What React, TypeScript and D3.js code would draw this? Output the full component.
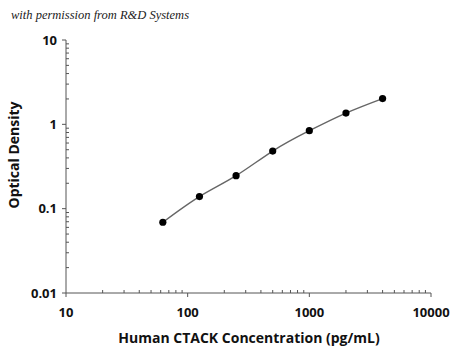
import { useEffect, useRef } from "react";
import * as d3 from "d3";

const concentrations = [62.5, 125, 250, 500, 1000, 2000, 4000];
const opticalDensity = [0.069, 0.139, 0.246, 0.482, 0.84, 1.36, 2.02];
const xTickValues = [10, 100, 1000, 10000];
const yTickValues = [0.01, 0.1, 1, 10];

const WIDTH = 450;
const HEIGHT = 350;
const PLOT = { left: 66, right: 431, top: 40, bottom: 293 };

export default function App() {
  const svgRef = useRef<SVGSVGElement>(null);

  useEffect(() => {
    if (!svgRef.current) return;
    const svg = d3.select(svgRef.current);
    svg.selectAll("*").remove();

    const x = d3.scaleLog().domain([10, 10000]).range([PLOT.left, PLOT.right]);
    const y = d3.scaleLog().domain([0.01, 10]).range([PLOT.bottom, PLOT.top]);

    const minorX = x.ticks().filter((t) => !xTickValues.includes(t));
    const minorY = y.ticks().filter((t) => !yTickValues.includes(t));

    const axisColor = "#555";

    // Axis lines
    svg.append("line")
      .attr("x1", PLOT.left).attr("x2", PLOT.right)
      .attr("y1", PLOT.bottom).attr("y2", PLOT.bottom)
      .attr("stroke", axisColor).attr("stroke-width", 1);
    svg.append("line")
      .attr("x1", PLOT.left).attr("x2", PLOT.left)
      .attr("y1", PLOT.top).attr("y2", PLOT.bottom)
      .attr("stroke", axisColor).attr("stroke-width", 1);

    // Major ticks (outside) and minor ticks (inside)
    svg.append("g").selectAll("line").data(xTickValues).join("line")
      .attr("x1", (d) => x(d)).attr("x2", (d) => x(d))
      .attr("y1", PLOT.bottom).attr("y2", PLOT.bottom + 4)
      .attr("stroke", axisColor);
    svg.append("g").selectAll("line").data(minorX).join("line")
      .attr("x1", (d) => x(d)).attr("x2", (d) => x(d))
      .attr("y1", PLOT.bottom).attr("y2", PLOT.bottom - 3)
      .attr("stroke", axisColor);
    svg.append("g").selectAll("line").data(yTickValues).join("line")
      .attr("y1", (d) => y(d)).attr("y2", (d) => y(d))
      .attr("x1", PLOT.left - 4).attr("x2", PLOT.left)
      .attr("stroke", axisColor);
    svg.append("g").selectAll("line").data(minorY).join("line")
      .attr("y1", (d) => y(d)).attr("y2", (d) => y(d))
      .attr("x1", PLOT.left).attr("x2", PLOT.left + 3)
      .attr("stroke", axisColor);

    const font = "'Open Sans', 'DejaVu Sans', sans-serif";

    // Tick labels
    svg.append("g").selectAll("text").data(xTickValues).join("text")
      .attr("x", (d) => x(d)).attr("y", PLOT.bottom + 24)
      .attr("text-anchor", "middle")
      .attr("font-family", font).attr("font-weight", 700).attr("font-size", 13)
      .attr("fill", "#111")
      .text((d) => String(d));
    svg.append("g").selectAll("text").data(yTickValues).join("text")
      .attr("x", PLOT.left - 9).attr("y", (d) => y(d) + 4.5)
      .attr("text-anchor", "end")
      .attr("font-family", font).attr("font-weight", 700).attr("font-size", 13)
      .attr("fill", "#111")
      .text((d) => String(d));

    // Axis titles
    svg.append("text")
      .attr("x", 249).attr("y", 343)
      .attr("text-anchor", "middle")
      .attr("font-family", font).attr("font-weight", 700).attr("font-size", 14)
      .attr("fill", "#111")
      .text("Human CTACK Concentration (pg/mL)");
    svg.append("text")
      .attr("transform", `translate(19,155) rotate(-90)`)
      .attr("text-anchor", "middle")
      .attr("font-family", font).attr("font-weight", 700).attr("font-size", 14)
      .attr("fill", "#111")
      .text("Optical Density");

    // Permission note
    svg.append("text")
      .attr("x", 11).attr("y", 19)
      .attr("font-family", "'Liberation Serif', 'DejaVu Serif', serif")
      .attr("font-style", "italic").attr("font-size", 12.5)
      .attr("fill", "#222")
      .text("with permission from R&D Systems");

    // Curve + points
    const pts = concentrations.map((c, i) => ({ c, od: opticalDensity[i] }));
    const line = d3.line<(typeof pts)[0]>()
      .x((d) => x(d.c))
      .y((d) => y(d.od))
      .curve(d3.curveNatural);
    svg.append("path")
      .datum(pts)
      .attr("d", line)
      .attr("fill", "none")
      .attr("stroke", "#666")
      .attr("stroke-width", 1.4);

    svg.append("g").selectAll("circle").data(pts).join("circle")
      .attr("cx", (d) => x(d.c)).attr("cy", (d) => y(d.od))
      .attr("r", 3.6)
      .attr("fill", "#000");
  }, []);

  return (
    <svg
      ref={svgRef}
      width={WIDTH}
      height={HEIGHT}
      style={{ position: "absolute", left: 0, top: 0, background: "#fff" }}
    />
  );
}
